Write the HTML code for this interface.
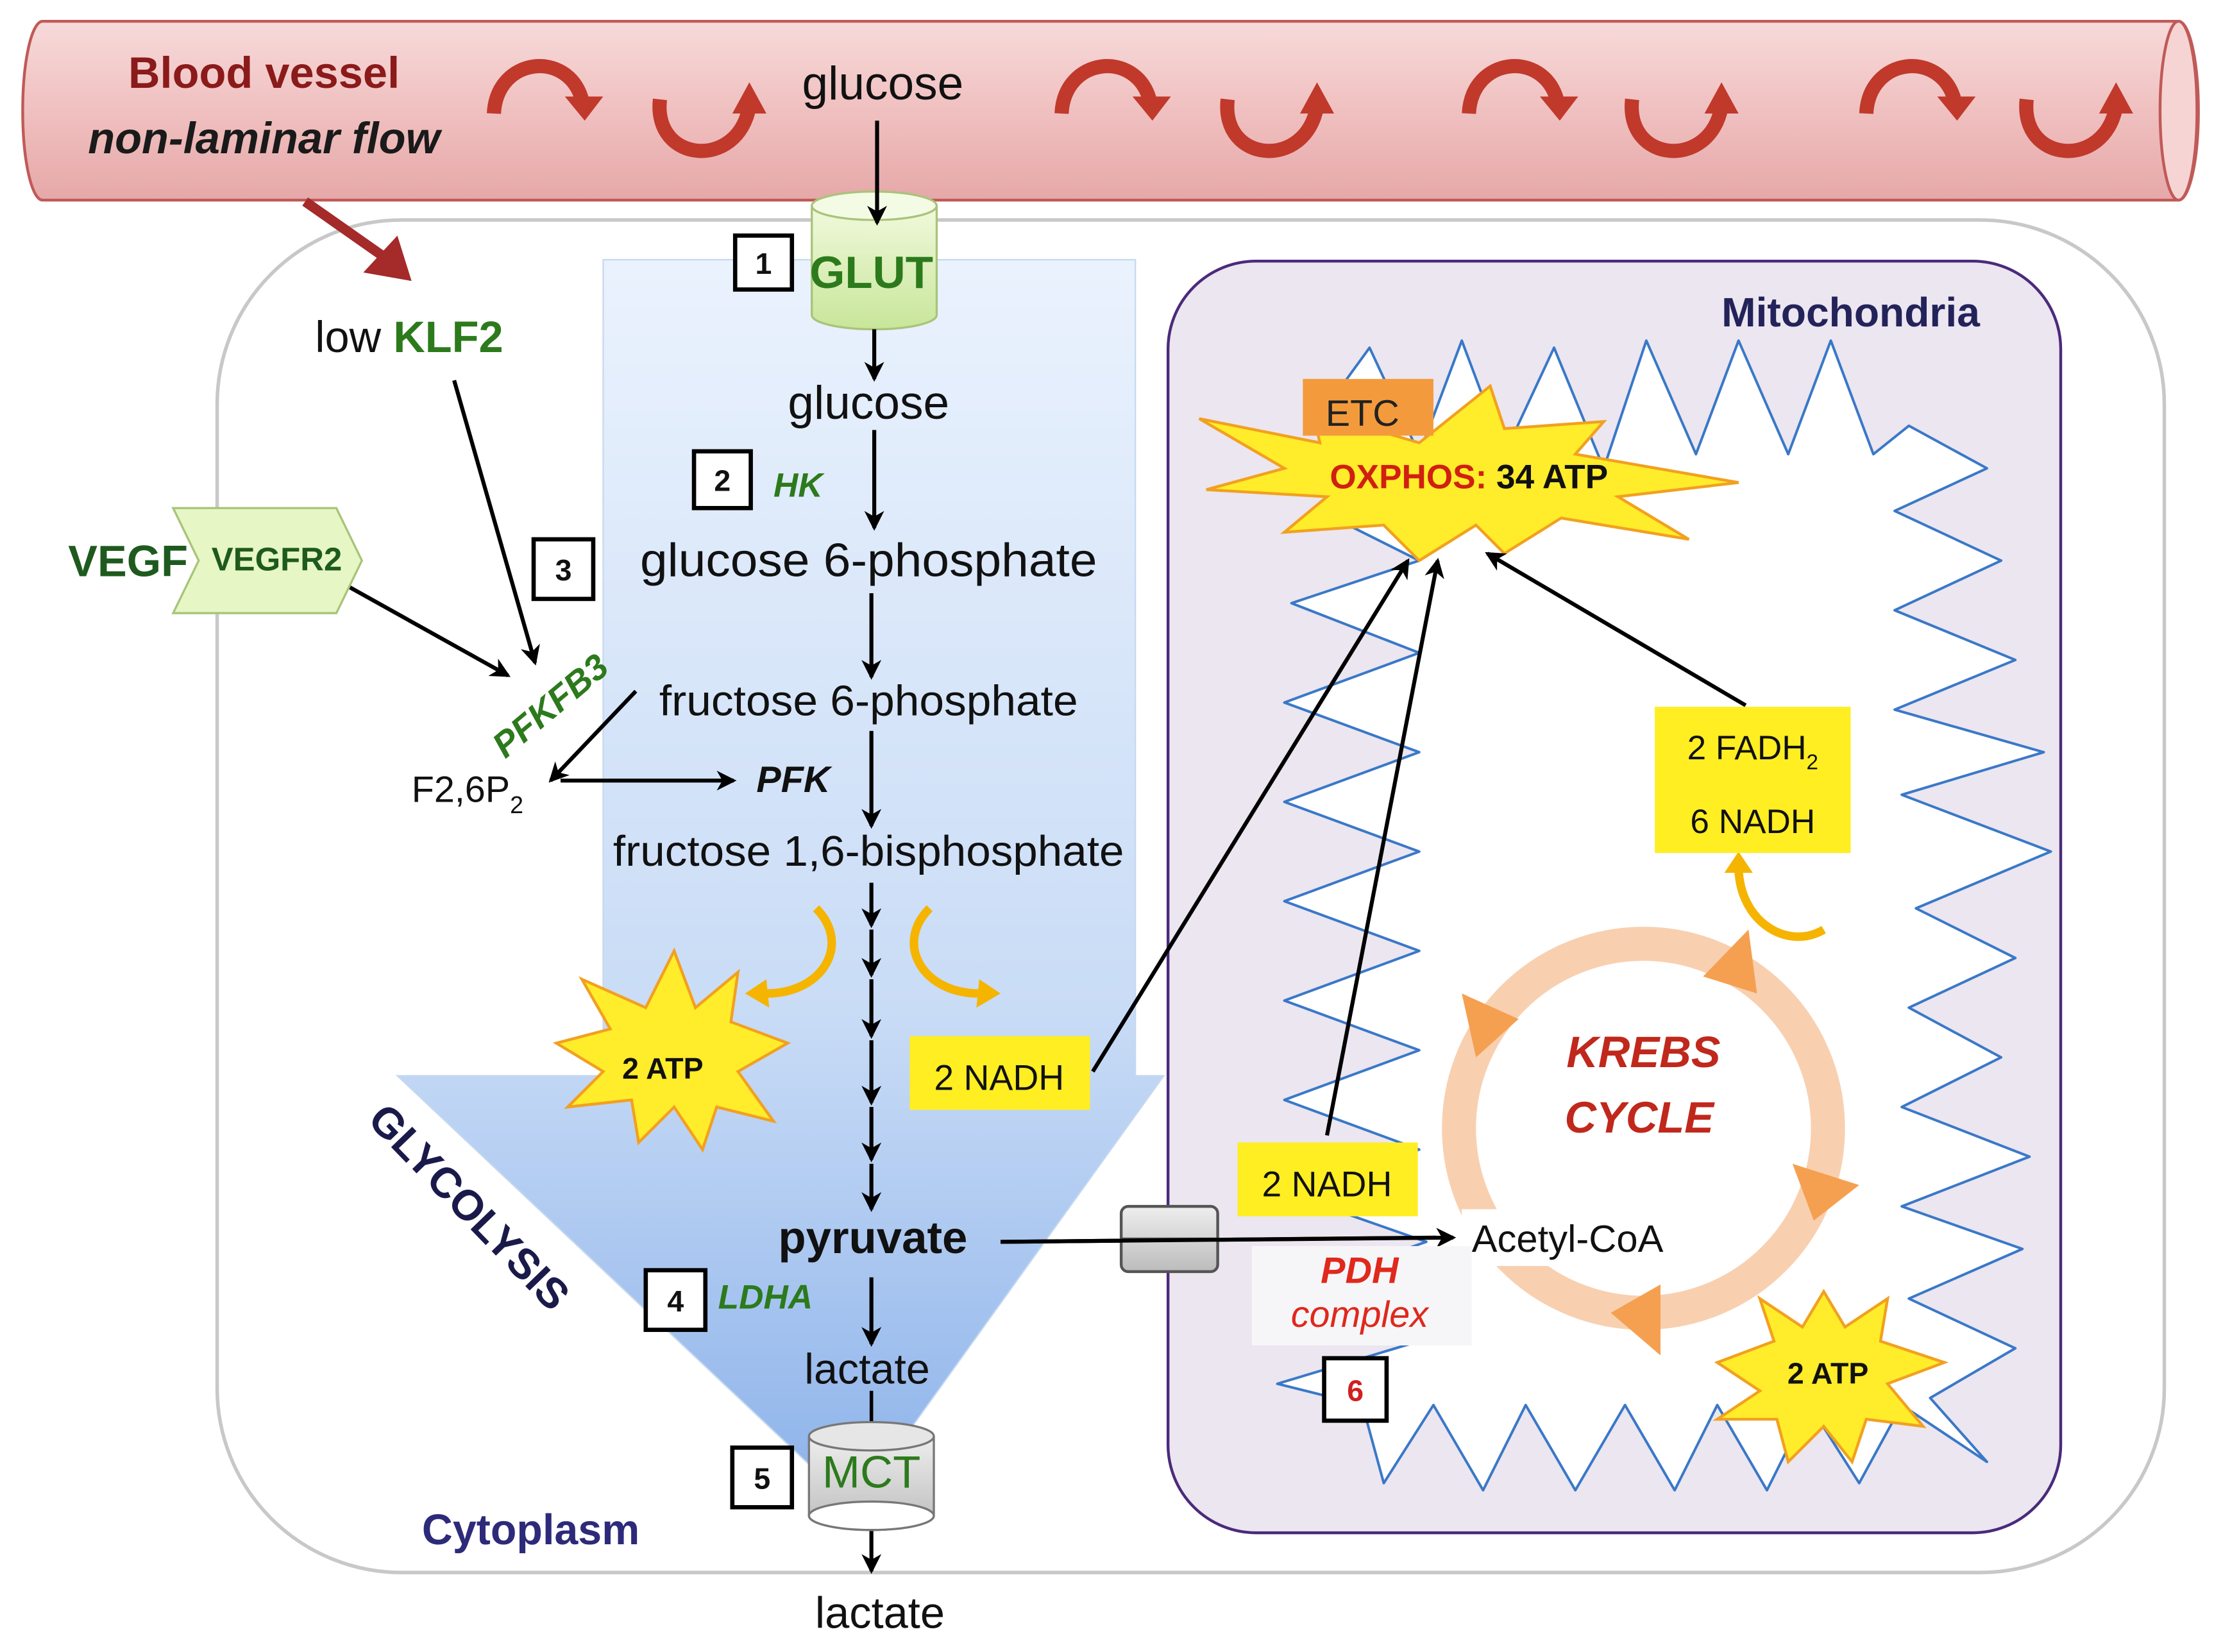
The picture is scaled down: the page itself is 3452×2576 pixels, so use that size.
<!DOCTYPE html>
<html><head><meta charset="utf-8"><style>html,body{margin:0;padding:0;background:#fff}svg{display:block}</style></head>
<body>
<svg width="3452" height="2576" viewBox="0 0 1560 1164" preserveAspectRatio="none" xmlns="http://www.w3.org/2000/svg" font-family="Liberation Sans, sans-serif">
<defs>
<linearGradient id="vessel" x1="0" y1="0" x2="0" y2="1"><stop offset="0" stop-color="#f7dada"/><stop offset="0.5" stop-color="#f0c0c0"/><stop offset="1" stop-color="#e6a8a8"/></linearGradient>
<linearGradient id="gly" x1="0" y1="0" x2="0" y2="1"><stop offset="0" stop-color="#eaf2fd"/><stop offset="0.6" stop-color="#c9dcf6"/><stop offset="1" stop-color="#8cb2ea"/></linearGradient>
<linearGradient id="glut" x1="0" y1="0" x2="0" y2="1"><stop offset="0" stop-color="#f1f9dc"/><stop offset="1" stop-color="#c8e69a"/></linearGradient>
<linearGradient id="mct" x1="0" y1="0" x2="0" y2="1"><stop offset="0" stop-color="#eeeeee"/><stop offset="1" stop-color="#bcbcbc"/></linearGradient>
<marker id="ah" markerWidth="14" markerHeight="14" refX="12" refY="7" orient="auto" markerUnits="userSpaceOnUse"><path d="M0,0 L14,7 L0,14 L4,7 z" fill="#000"/></marker>
</defs>
<!-- blood vessel -->
<path d="M30,15 H1535 A14,63 0 0 1 1535,141 H30 A14,63 0 0 1 30,15 z" fill="url(#vessel)" stroke="#c05a58" stroke-width="2"/>
<ellipse cx="1535" cy="78" rx="13" ry="63" fill="#f6d4d4" stroke="#c05a58" stroke-width="2"/>
<text x="186" y="62" font-size="31" font-weight="bold" fill="#8b1a1a" text-anchor="middle">Blood vessel</text>
<text x="186" y="108" font-size="31" font-weight="bold" font-style="italic" fill="#1a1a1a" text-anchor="middle">non-laminar flow</text>
<text x="622" y="70" font-size="33" fill="#111" text-anchor="middle">glucose</text>
<!-- swirl arrows -->
<g fill="none" stroke="#c0392b" stroke-width="10" stroke-linecap="butt">
<path d="M348,80 C350,40 400,35 410,70"/><path d="M465,70 C460,115 520,120 528,75"/>
<path d="M748,80 C750,40 800,35 810,70"/><path d="M865,70 C860,115 920,120 928,75"/>
<path d="M1035,80 C1037,40 1087,35 1097,70"/><path d="M1150,70 C1145,115 1205,120 1213,75"/>
<path d="M1315,80 C1317,40 1367,35 1377,70"/><path d="M1428,70 C1423,115 1483,120 1491,75"/>
</g>
<g fill="#c0392b">
<path d="M398,68 L425,68 L412,85z"/><path d="M516,80 L540,80 L528,58z"/>
<path d="M798,68 L825,68 L812,85z"/><path d="M916,80 L940,80 L928,58z"/>
<path d="M1085,68 L1112,68 L1099,85z"/><path d="M1201,80 L1225,80 L1213,58z"/>
<path d="M1365,68 L1392,68 L1379,85z"/><path d="M1479,80 L1503,80 L1491,58z"/>
</g>
<!-- cell -->
<rect x="153" y="155" width="1372" height="953" rx="130" fill="#fff" stroke="#c8c8c8" stroke-width="2.5"/>
<!-- red arrow vessel to cell -->
<line x1="215" y1="142" x2="272" y2="182" stroke="#a52a2a" stroke-width="7"/>
<path d="M290,198 L256,192 L280,166z" fill="#a52a2a"/>
<!-- glycolysis arrow -->
<path d="M425,183 H800 V758 H820 L602,1062 L280,758 H425 z" fill="url(#gly)" stroke="#c5d8f0" stroke-width="1"/>
<text x="0" y="0" font-size="30" font-weight="bold" fill="#1a1a4a" transform="translate(258,790) rotate(46)">GLYCOLYSIS</text>
<!-- mitochondria -->
<rect x="823" y="184" width="629" height="896" rx="62" fill="#ebe6f0" stroke="#4b2a7b" stroke-width="2"/>
<path fill="#fff" stroke="#3a78c8" stroke-width="1.8" stroke-linejoin="round" d="M925,300 L965,245 L1000,320 L1030,240 L1060,320 L1095,245 L1130,330 L1160,240 L1195,320 L1225,240 L1260,320 L1290,240 L1320,320 L1345,300 L1400,330 L1335,360 L1410,395 L1335,430 L1420,465 L1335,500 L1440,530 L1340,560 L1445,600 L1350,640 L1420,675 L1345,710 L1410,745 L1340,780 L1430,815 L1340,850 L1425,880 L1345,915 L1420,950 L1360,985 L1400,1030 L1340,990 L1310,1045 L1275,990 L1245,1050 L1210,990 L1180,1050 L1145,990 L1110,1050 L1075,990 L1045,1050 L1010,990 L975,1045 L960,990 L900,975 L1000,945 L905,910 L1005,875 L905,840 L1000,810 L905,775 L1000,740 L905,705 L1000,670 L905,635 L1000,600 L905,565 L1000,530 L905,495 L1000,460 L910,425 L1000,395 L930,360 L990,330 z"/>
<text x="1395" y="230" font-size="29" font-weight="bold" fill="#23235a" text-anchor="end">Mitochondria</text>
<!-- OXPHOS & ETC -->
<polygon points="845,295 930,312 925,290 1000,312 1050,272 1060,302 1130,297 1110,320 1225,340 1140,350 1190,380 1100,365 1060,390 1040,370 1000,395 975,370 905,375 935,350 850,345 905,330" fill="#ffec2a" stroke="#f2a020" stroke-width="2"/>
<rect x="918" y="267" width="92" height="40" fill="#f39b3c"/>
<text x="960" y="300" font-size="26" fill="#222" text-anchor="middle">ETC</text>
<text x="1035" y="344" font-size="24" font-weight="bold" fill="#d02010" text-anchor="middle">OXPHOS: <tspan fill="#111">34 ATP</tspan></text>
<!-- cytoplasm label -->
<text x="374" y="1088" font-size="30" font-weight="bold" fill="#2e2a7a" text-anchor="middle">Cytoplasm</text>
<!-- GLUT -->
<path d="M572,145 V222 A44,10 0 0 0 660,222 V145" fill="url(#glut)" stroke="#a8c47a" stroke-width="1.5"/>
<ellipse cx="616" cy="145" rx="44" ry="10" fill="#f4fbe5" stroke="#a8c47a" stroke-width="1.5"/>
<text x="614" y="203" font-size="32" font-weight="bold" fill="#2c7a1c" text-anchor="middle">GLUT</text>
<g stroke="#000" stroke-width="2.8" fill="none" marker-end="url(#ah)">
<line x1="618" y1="85" x2="618" y2="157"/>
<line x1="616" y1="232" x2="616" y2="267"/>
<line x1="616" y1="303" x2="616" y2="372"/>
<line x1="614" y1="418" x2="614" y2="477"/>
<line x1="614" y1="515" x2="614" y2="582"/>
<line x1="614" y1="622" x2="614" y2="652"/>
<line x1="614" y1="655" x2="614" y2="687"/>
<line x1="614" y1="690" x2="614" y2="730"/>
<line x1="614" y1="733" x2="614" y2="777"/>
<line x1="614" y1="780" x2="614" y2="817"/>
<line x1="614" y1="820" x2="614" y2="852"/>
<line x1="614" y1="900" x2="614" y2="947"/>
<line x1="614" y1="1075" x2="614" y2="1107"/>
<line x1="320" y1="268" x2="377" y2="467"/>
<line x1="245" y1="413" x2="358" y2="476"/>
<line x1="448" y1="487" x2="388" y2="550"/>
<line x1="395" y1="550" x2="517" y2="550"/>
<line x1="705" y1="875" x2="1024" y2="872"/>
<line x1="770" y1="755" x2="992" y2="395"/>
<line x1="935" y1="800" x2="1013" y2="395"/>
<line x1="1230" y1="497" x2="1048" y2="390"/>
</g>
<text x="612" y="295" font-size="33" fill="#111" text-anchor="middle">glucose</text>
<text x="612" y="406" font-size="33" fill="#111" text-anchor="middle" textLength="322" lengthAdjust="spacingAndGlyphs">glucose 6-phosphate</text>
<text x="612" y="504" font-size="30" fill="#111" text-anchor="middle" textLength="295" lengthAdjust="spacingAndGlyphs">fructose 6-phosphate</text>
<text x="612" y="610" font-size="30" fill="#111" text-anchor="middle" textLength="360" lengthAdjust="spacingAndGlyphs">fructose 1,6-bisphosphate</text>
<text x="615" y="883" font-size="32" font-weight="bold" fill="#111" text-anchor="middle">pyruvate</text>
<text x="611" y="975" font-size="30" fill="#111" text-anchor="middle">lactate</text>
<text x="620" y="1147" font-size="31" fill="#111" text-anchor="middle">lactate</text>
<!-- numbered boxes -->
<g fill="#fff" stroke="#000" stroke-width="3">
<rect x="518" y="166" width="40" height="38"/><rect x="489" y="318" width="40" height="40"/>
<rect x="376" y="380" width="42" height="42"/><rect x="455" y="895" width="42" height="42"/>
<rect x="516" y="1020" width="42" height="42"/><rect x="933" y="957" width="44" height="44"/>
</g>
<g font-size="21" font-weight="bold" text-anchor="middle" fill="#111">
<text x="538" y="193">1</text><text x="509" y="346">2</text><text x="397" y="409">3</text><text x="476" y="924">4</text><text x="537" y="1049">5</text><text x="955" y="987" fill="#d02020">6</text>
</g>
<text x="545" y="350" font-size="24" font-weight="bold" font-style="italic" fill="#2c7a1c">HK</text>
<text x="506" y="922" font-size="24" font-weight="bold" font-style="italic" fill="#2c7a1c">LDHA</text>
<text x="533" y="558" font-size="26" font-weight="bold" font-style="italic" fill="#111">PFK</text>
<!-- KLF2 / VEGF -->
<text x="222" y="248" font-size="31" fill="#111">low <tspan font-weight="bold" fill="#2c7a1c">KLF2</tspan></text>
<text x="48" y="406" font-size="31" font-weight="bold" fill="#1e5a1e">VEGF</text>
<polygon points="122,358 237,358 255,395 237,432 122,432 140,395" fill="#e6f6c4" stroke="#a8c47a" stroke-width="1.5"/>
<text x="195" y="402" font-size="23" font-weight="bold" fill="#1e5a1e" text-anchor="middle">VEGFR2</text>
<text x="0" y="0" font-size="25" font-weight="bold" font-style="italic" fill="#2c7a1c" transform="translate(356,535) rotate(-40)">PFKFB3</text>
<text x="290" y="565" font-size="26" fill="#111">F2,6P<tspan font-size="17" dy="8">2</tspan></text>
<!-- yellow curved arrows -->
<g fill="none" stroke="#f5b400" stroke-width="6">
<path d="M575,640 C600,665 580,700 540,700"/><path d="M655,640 C630,665 650,700 690,700"/><path d="M1225,610 C1225,650 1260,670 1285,655"/>
</g>
<path d="M540,690 L525,700 L542,710z" fill="#f5b400"/><path d="M690,690 L705,700 L688,710z" fill="#f5b400"/><path d="M1215,615 L1225,600 L1235,615z" fill="#f5b400"/>
<!-- 2 ATP stars -->
<polygon points="475,670 490,710 520,685 515,720 555,735 520,755 545,790 505,780 495,810 475,780 450,805 445,775 400,780 425,755 392,735 430,725 410,690 455,710" fill="#ffec2a" stroke="#f2a020" stroke-width="2"/>
<text x="467" y="760" font-size="21" font-weight="bold" fill="#111" text-anchor="middle">2 ATP</text>
<polygon points="1285,910 1300,935 1330,915 1325,945 1370,960 1330,975 1355,1005 1315,1000 1305,1030 1285,1005 1260,1030 1252,1000 1210,1000 1240,980 1210,960 1250,945 1240,915 1270,935" fill="#ffec2a" stroke="#f2a020" stroke-width="2"/>
<text x="1288" y="975" font-size="21" font-weight="bold" fill="#111" text-anchor="middle">2 ATP</text>
<!-- NADH boxes -->
<rect x="641" y="730" width="127" height="52" fill="#ffee22"/>
<text x="704" y="768" font-size="25" fill="#111" text-anchor="middle">2 NADH</text>
<rect x="872" y="805" width="127" height="52" fill="#ffee22"/>
<text x="935" y="843" font-size="25" fill="#111" text-anchor="middle">2 NADH</text>
<rect x="1166" y="498" width="138" height="103" fill="#ffee22"/>
<text x="1235" y="535" font-size="24" fill="#111" text-anchor="middle">2 FADH<tspan font-size="15" dy="7">2</tspan></text>
<text x="1235" y="587" font-size="24" fill="#111" text-anchor="middle">6 NADH</text>
<!-- Krebs cycle -->
<circle cx="1158" cy="795" r="130" fill="none" stroke="#f8d0b0" stroke-width="24"/>
<g fill="#f5a050">
<polygon points="1200,688 1232,655 1238,700"/><polygon points="1040,745 1030,700 1070,718"/>
<polygon points="1263,820 1310,835 1278,860"/><polygon points="1135,925 1170,905 1170,955"/>
</g>
<text x="1158" y="752" font-size="31" font-weight="bold" font-style="italic" fill="#c0281c" text-anchor="middle">KREBS</text>
<text x="1155" y="798" font-size="31" font-weight="bold" font-style="italic" fill="#c0281c" text-anchor="middle">CYCLE</text>
<rect x="1030" y="852" width="165" height="40" fill="#fff"/>
<text x="1037" y="882" font-size="27" fill="#111">Acetyl-CoA</text>
<rect x="882" y="878" width="155" height="70" fill="#f6f6f8"/>
<text x="958" y="904" font-size="26" font-weight="bold" font-style="italic" fill="#e0281c" text-anchor="middle">PDH</text>
<text x="958" y="935" font-size="26" font-style="italic" fill="#e0281c" text-anchor="middle">complex</text>
<!-- transporter -->
<rect x="790" y="850" width="68" height="46" rx="5" fill="url(#mct)" stroke="#555" stroke-width="2"/>
<line x1="790" y1="873" x2="858" y2="873" stroke="#555" stroke-width="2"/>
<line x1="705" y1="875" x2="1012" y2="872" stroke="#000" stroke-width="2.8"/>
<!-- MCT -->
<line x1="614" y1="980" x2="614" y2="1010" stroke="#000" stroke-width="2.5"/>
<path d="M570,1012 V1068 A44,10 0 0 0 658,1068 V1012" fill="url(#mct)" stroke="#777" stroke-width="1.5"/>
<ellipse cx="614" cy="1012" rx="44" ry="10" fill="#e6e6e6" stroke="#777" stroke-width="1.5"/>
<ellipse cx="614" cy="1068" rx="44" ry="10" fill="#fff" stroke="#777" stroke-width="1.5"/>
<text x="614" y="1048" font-size="32" fill="#2c7a1c" text-anchor="middle">MCT</text>
</svg>
</body></html>
